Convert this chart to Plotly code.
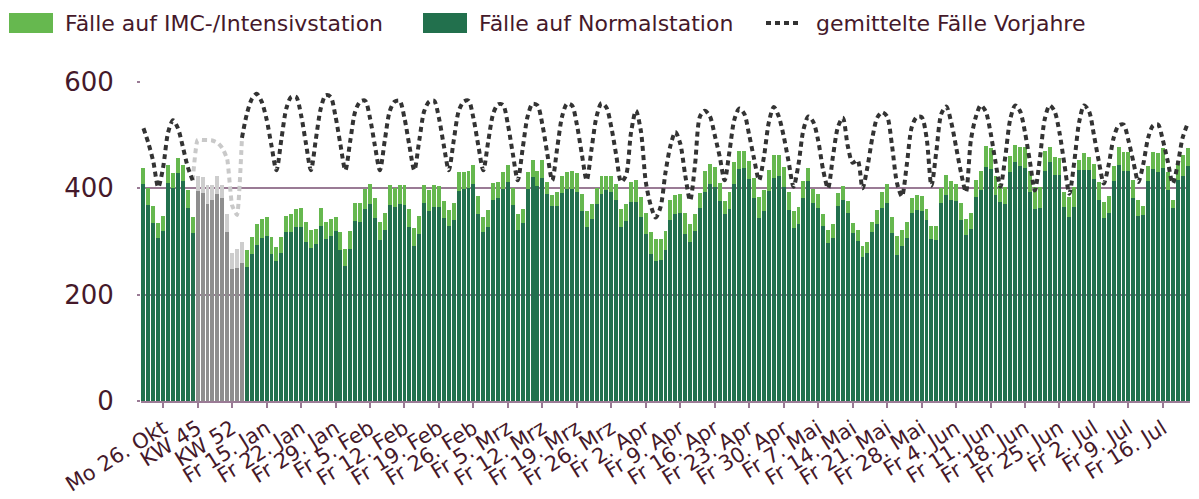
import datetime as dt
import plotly.graph_objects as go

# ---------------- data ----------------
# categories: daily 22.10.-01.11.2020, weekly KW 45 - KW 1, daily 11.01.-21.07.2021
days_a = [dt.date(2020, 10, 22) + dt.timedelta(days=k) for k in range(11)]
weeks = ["KW 45", "KW 46", "KW 47", "KW 48", "KW 49", "KW 50", "KW 51", "KW 52", "KW 53", "KW 1"]
days_b = [dt.date(2021, 1, 11) + dt.timedelta(days=k) for k in range(192)]
categories = [d.strftime("%d.%m.%Y") for d in days_a] + weeks + [d.strftime("%d.%m.%Y") for d in days_b]

normal_a = [409, 368, 334, 307, 319, 410, 401, 428, 413, 363, 316]
imc_a = [30, 33, 32, 27, 29, 33, 28, 30, 30, 33, 31]

weekly_normal = [395, 391, 371, 379, 390, 381, 317, 248, 251, 259]
weekly_imc = [29, 30, 35, 27, 34, 25, 35, 31, 34, 40]

normal_b = [
    252, 277, 293, 307, 310, 277, 264, 279, 317, 317, 327, 327, 299, 287, 296, 329, 304, 311, 319, 284,
    254, 285, 338, 337, 362, 371, 345, 302, 321, 368, 365, 371, 368, 327, 292, 315, 372, 357, 365, 365,
    345, 329, 340, 395, 398, 401, 408, 351, 318, 327, 379, 381, 398, 412, 368, 322, 335, 399, 421, 404,
    420, 390, 366, 366, 391, 398, 398, 393, 357, 327, 342, 371, 390, 396, 393, 379, 327, 339, 374, 374,
    347, 314, 277, 264, 266, 284, 340, 352, 354, 315, 300, 320, 363, 393, 409, 403, 376, 352, 362, 409,
    437, 438, 418, 381, 344, 357, 395, 419, 423, 403, 360, 326, 332, 382, 413, 372, 363, 329, 297, 307,
    366, 379, 354, 316, 301, 271, 279, 317, 332, 363, 373, 316, 274, 291, 307, 354, 359, 357, 341, 304,
    302, 372, 387, 379, 376, 340, 312, 323, 384, 396, 440, 437, 387, 374, 371, 431, 449, 442, 439, 394,
    362, 363, 432, 449, 426, 426, 365, 347, 365, 435, 434, 434, 417, 379, 344, 354, 413, 443, 433, 433,
    381, 348, 349, 413, 436, 431, 439, 396, 363, 415, 424, 442,
]
imc_b = [
    32, 32, 39, 35, 36, 32, 26, 30, 31, 34, 35, 36, 38, 34, 27, 34, 32, 32, 27, 33,
    31, 34, 34, 35, 36, 37, 37, 35, 33, 38, 36, 35, 38, 35, 34, 33, 35, 39, 41, 39,
    32, 31, 32, 36, 33, 31, 35, 34, 29, 32, 31, 31, 33, 31, 33, 30, 27, 32, 33, 28,
    33, 22, 21, 27, 32, 33, 35, 35, 33, 30, 29, 30, 34, 28, 31, 29, 35, 32, 38, 41,
    37, 40, 41, 40, 39, 35, 39, 35, 36, 39, 33, 32, 28, 39, 37, 38, 34, 25, 32, 40,
    34, 33, 33, 39, 40, 39, 40, 44, 40, 37, 33, 31, 33, 31, 26, 27, 26, 22, 24, 25,
    25, 25, 23, 18, 20, 21, 20, 20, 27, 31, 35, 31, 36, 30, 30, 28, 28, 28, 20, 25,
    27, 29, 39, 34, 33, 33, 30, 31, 32, 37, 39, 39, 37, 35, 32, 29, 32, 36, 39, 38,
    41, 40, 38, 29, 33, 31, 28, 37, 38, 19, 32, 25, 28, 32, 30, 31, 29, 35, 35, 35,
    34, 31, 17, 29, 32, 35, 37, 35, 16, 36, 38, 33,
]

# averaged cases of previous years (daily), split into dark and grey (weekly section) parts
prev_a = [513, 485, 450, 402, 440, 505, 528, 513, 478, 440, 415]
prev_weekly = [415, 491, 491, 491, 490, 486, 476, 455, 368, 350, 495]
prev_b = [
    495, 540, 568, 578, 563, 530, 480,
    434, 492, 550, 572, 572, 538, 484,
    434, 492, 550, 575, 572, 535, 482,
    434, 490, 545, 563, 565, 532, 480,
    434, 490, 545, 563, 565, 532, 480,
    434, 490, 545, 563, 565, 532, 480,
    434, 490, 545, 563, 565, 532, 480,
    434, 488, 540, 558, 557, 520, 465,
    415, 475, 535, 559, 556, 520, 465,
    415, 475, 535, 559, 556, 520, 465,
    415, 475, 535, 560, 552, 515, 462,
    412, 425, 505, 546, 508, 412, 368,
    345, 365, 430, 480, 506, 484, 425,
    377, 445, 535, 546, 536, 500, 460,
    415, 470, 530, 550, 540, 500, 455,
    415, 460, 525, 553, 535, 498, 450,
    403, 445, 510, 535, 525, 490, 435,
    400, 460, 515, 533, 480, 448, 453,
    400, 440, 495, 533, 543, 535, 480,
    410, 385, 445, 515, 534, 534, 496,
    405, 470, 540, 554, 525, 478, 430,
    393, 490, 534, 556, 545, 505, 450,
    403, 460, 530, 556, 545, 505, 450,
    396, 455, 530, 556, 545, 505, 445,
    390, 450, 525, 556, 545, 500, 450,
    409, 445, 495, 518, 520, 490, 450,
    412, 445, 495, 518, 520, 490, 450,
    409, 445, 495, 521,
]

tick_labels = [
    "Mo 26. Okt", "KW 45", "KW 52", "Fr 15. Jan", "Fr 22. Jan", "Fr 29. Jan", "Fr 5. Feb",
    "Fr 12. Feb", "Fr 19. Feb", "Fr 26. Feb", "Fr 5. Mrz", "Fr 12. Mrz", "Fr 19. Mrz",
    "Fr 26. Mrz", "Fr 2. Apr", "Fr 9. Apr", "Fr 16. Apr", "Fr 23. Apr", "Fr 30. Apr",
    "Fr 7. Mai", "Fr 14. Mai", "Fr 21. Mai", "Fr 28. Mai", "Fr 4. Jun", "Fr 11. Jun",
    "Fr 18. Jun", "Fr 25. Jun", "Fr 2. Jul", "Fr 9. Jul", "Fr 16. Jul",
]

# ---------------- assemble ----------------
na, nw = len(normal_a), len(weekly_normal)
gap_w = [None] * nw
normal = normal_a + gap_w + normal_b
imc = imc_a + gap_w + imc_b
grey_normal = [None] * na + weekly_normal + [None] * len(normal_b)
grey_imc = [None] * na + weekly_imc + [None] * len(imc_b)
prev_dark = prev_a + [None] * (nw - 1) + prev_b
prev_grey_x = categories[na - 1: na + nw + 1]

tick_vals = categories[4::7][: len(tick_labels)]

C_LIGHT = "#66b84f"
C_DARK = "#22704d"
C_TEXT = "#45192a"
C_GRID = "#9a7b95"
FONT = "DejaVu Sans"

fig = go.Figure()
fig.add_trace(go.Bar(x=categories, y=normal, name="Fälle auf Normalstation",
                     marker=dict(color=C_DARK, line=dict(width=0)), showlegend=False))
fig.add_trace(go.Bar(x=categories, y=grey_normal, name="Normalstation (Wochenwerte)",
                     marker=dict(color="#8e8e8e", line=dict(width=0)), showlegend=False))
fig.add_trace(go.Bar(x=categories, y=imc, name="Fälle auf IMC-/Intensivstation",
                     marker=dict(color=C_LIGHT, line=dict(width=0)), showlegend=False))
fig.add_trace(go.Bar(x=categories, y=grey_imc, name="IMC-/Intensivstation (Wochenwerte)",
                     marker=dict(color="#cdcdcd", line=dict(width=0)), showlegend=False))
fig.add_trace(go.Scatter(x=prev_grey_x, y=prev_weekly, mode="lines", showlegend=False,
                         line=dict(color="#c9c9c9", width=4, dash="5px,4px", shape="spline", smoothing=0.4)))
fig.add_trace(go.Scatter(x=categories, y=prev_dark, mode="lines", name="gemittelte Fälle Vorjahre",
                         showlegend=False,
                         line=dict(color="#333333", width=4, dash="5px,4px", shape="spline", smoothing=0.8)))

# ---- page geometry (browser body has an 8px margin) ----
OFF = 8
W, H = 1199 - OFF, 499 - OFF
PL, PR, PT, PB = 141, 1190, 82, 401   # plot area in page pixels


def px(xp):
    return (xp - PL) / (PR - PL)


def py(yp):
    return (PB - yp) / (PB - PT)


shapes = [
    dict(type="rect", xref="paper", yref="paper", x0=px(9), x1=px(53), y0=py(33), y1=py(13),
         fillcolor=C_LIGHT, line=dict(width=0)),
    dict(type="rect", xref="paper", yref="paper", x0=px(423), x1=px(467), y0=py(33), y1=py(13),
         fillcolor=C_DARK, line=dict(width=0)),
    dict(type="line", xref="paper", yref="paper", x0=px(766), x1=px(802), y0=py(23), y1=py(23),
         line=dict(color="#333333", width=4, dash="5px,4px")),
]
annotations = [
    dict(text="Fälle auf IMC-/Intensivstation", x=px(63), y=py(23)),
    dict(text="Fälle auf Normalstation", x=px(477), y=py(23)),
    dict(text="gemittelte Fälle Vorjahre", x=px(814), y=py(23)),
]
for a in annotations:
    a.update(xref="paper", yref="paper", xanchor="left", yanchor="middle", showarrow=False,
             font=dict(family=FONT, size=22, color=C_TEXT))

fig.update_layout(
    width=W, height=H,
    margin=dict(l=PL - OFF, r=(W + OFF) - PR, t=PT - OFF, b=(H + OFF) - PB, autoexpand=False),
    paper_bgcolor="white", plot_bgcolor="white",
    barmode="stack", bargap=0.2,
    showlegend=False,
    shapes=shapes, annotations=annotations,
    font=dict(family=FONT, color=C_TEXT),
)
fig.update_xaxes(
    type="category", categoryorder="array", categoryarray=categories,
    range=[-0.5, len(categories) - 0.5], automargin=False,
    tickmode="array", tickvals=tick_vals, ticktext=tick_labels, tickangle=-32,
    tickfont=dict(family=FONT, size=21, color=C_TEXT),
    ticks="outside", ticklen=5, tickwidth=2, tickcolor=C_GRID,
    showline=True, linecolor=C_GRID, linewidth=2, showgrid=False,
)
fig.update_yaxes(
    range=[0, 600], tickvals=[0, 200, 400, 600], automargin=False,
    tickfont=dict(family=FONT, size=26, color=C_TEXT),
    showgrid=True, gridcolor=C_GRID, gridwidth=2,
    ticks="outside", ticklen=3, tickwidth=2, tickcolor=C_GRID,
    ticklabelstandoff=18, zeroline=False, showline=False,
)

fig.write_html("out.html")
